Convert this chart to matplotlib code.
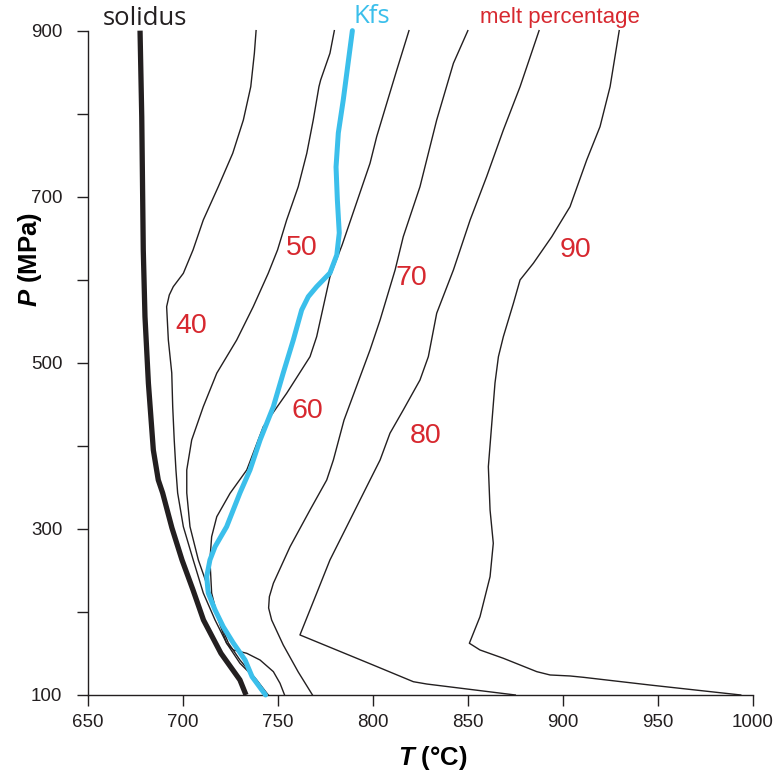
import matplotlib
matplotlib.use("Agg")
import matplotlib.pyplot as plt

plt.rcParams['font.family'] = ['Liberation Sans', 'DejaVu Sans']
plt.rcParams['mathtext.fontset'] = 'custom'
plt.rcParams['mathtext.it'] = 'Liberation Sans:italic:bold'
plt.rcParams['mathtext.rm'] = 'Liberation Sans:bold'

# ---------------- data (T in °C, P in MPa) ----------------
solidus_T = [677.4, 678.3, 679.1, 680.0, 681.8, 684.4, 687.0, 689.3, 694.2, 699.5, 705.3,
             710.8, 720.0, 730.0, 733.2]
solidus_P = [900, 796, 636, 555.6, 475.4, 395.0, 358.9, 343.3, 301.1, 262.6, 226.4,
             190.3, 150.2, 118.1, 100]

kfs_T = [789.2, 784.4, 781.8, 780.6, 781.3, 782.3, 781.0, 777.4, 770.4, 766.0, 762.5, 758.1,
         752.8, 747.6, 740.6, 735.3, 730.0, 723.0, 716.9, 714.2, 712.5, 713.3, 716.9, 721.2,
         726.5, 732.7, 736.4, 743.5]
kfs_P = [900, 816.5, 776.8, 735.8, 696.1, 656.4, 629.9, 608.2, 591.7, 579.7, 563.6, 527.5,
         487.8, 447.2, 407, 371, 343.3, 302.7, 278.6, 262.6, 242.5, 222.8, 202.4, 182.2,
         162.6, 142.1, 122, 100]

m40_T = [738.5, 737.6, 735.7, 731.8, 726.2, 718.6, 710.7, 705.3, 700.2, 694.9, 692.8, 691.4,
         692.3, 694.1, 694.6, 695.4, 696.3, 697.2, 700.2, 705.4, 710.7, 716.9, 723.0, 730.0,
         738.8, 744.9]
m40_P = [900, 872.8, 832.5, 792.4, 752.3, 712.1, 672.0, 635.9, 607.8, 591.7, 581.7, 567.6,
         527.5, 487.8, 447.2, 407.1, 371.0, 343.3, 302.7, 262.6, 222.8, 190.3, 162.3, 138.2,
         118.1, 100]

m50_T = [779.7, 777.4, 772.5, 771.6, 768.6, 765.2, 760.7, 754.6, 749.8, 744.9, 737.0, 728.3,
         717.8, 710.7, 704.6, 702.0, 702.0, 703.7, 708.1, 714.2, 720.4, 723.9, 730.0, 737.9, 744.3]
m50_P = [900, 872.8, 840.6, 832.5, 792.4, 752.3, 712.1, 672.0, 635.9, 607.8, 567.6, 527.5,
         487.5, 447.2, 407.1, 371.0, 343.3, 302.7, 262.6, 222.8, 182.2, 162.6, 142.1, 120.5, 100]

m60_T = [819.0, 812.6, 807.3, 802.0, 798.5, 783.8, 777.4, 770.4, 766.9, 754.6, 742.3, 733.6,
         724.8, 717.8, 715.1, 714.2, 715.1, 718.6, 723.0, 726.5, 733.6, 740.6, 747.6, 751.1, 753.5]
m60_P = [900, 852.7, 812.6, 772.3, 740.3, 641.9, 603.7, 531.5, 507.4, 463.3, 423.1, 371.0,
         342.9, 314.7, 290.6, 262.6, 222.8, 190.3, 162.3, 154.2, 150.2, 142.1, 128.1, 114.1, 100]

m70_T = [850.0, 842.4, 833.6, 824.8, 816.0, 811.7, 803.8, 798.5, 784.8, 779.2, 775.7, 766.9,
         756.4, 747.6, 745.5, 745.1, 746.7, 752.8, 760.7, 768.2]
m70_P = [900, 860.7, 792.4, 712.1, 651.9, 611.8, 551.6, 515.5, 431, 383.0, 358.9, 322.8,
         278.6, 234.5, 218.4, 204.8, 190.3, 160.2, 127.7, 100]

m80_T = [887.5, 877.5, 868.7, 859.9, 851.2, 842.4, 833.6, 829.2, 824.8, 816.0, 809.0, 803.8,
         798.5, 795.0, 786.2, 777.4, 770.4, 761.6, 800.0, 821.3, 828.4, 875.0]
m80_P = [900, 832.5, 780.4, 724.2, 672.0, 611.8, 559.7, 507.4, 479.3, 443.2, 415.2, 383.0,
         358.9, 342.9, 302.7, 262.6, 222.5, 172.3, 136.2, 116.0, 113.2, 100]

m90_T = [929.7, 924.9, 919.6, 912.6, 903.8, 894.2, 884.5, 877.5, 874.0, 868.7, 866.1, 864.3,
         860.8, 861.7, 863.4, 861.7, 856.4, 850.8, 856.4, 868.7, 886.3, 893.3, 903.8, 910.8,
         945.9, 993.7]
m90_P = [900, 832.5, 784.4, 744.3, 688.0, 651.9, 619.9, 599.8, 571.7, 531.5, 507.4, 475.7,
         374.9, 322.8, 282.7, 242.5, 194.3, 162.3, 154.2, 144.2, 128.1, 124.1, 122.9, 121.3,
         112.0, 100]

melt_labels = ['40', '50', '60', '70', '80', '90']
melt_label_T = [704.2, 762.5, 765.3, 820.1, 827.6, 906.5]
melt_label_P = [535.9, 629.9, 433.6, 593.7, 403.1, 627.8]

x_ticks = [650, 700, 750, 800, 850, 900, 950, 1000]
y_ticks = [100, 200, 300, 400, 500, 600, 700, 800, 900]
y_ticklabels = ['100', '', '300', '', '500', '', '700', '', '900']

# ---------------- figure ----------------
fig = plt.figure(figsize=(7.74, 7.78), dpi=100)
ax = fig.add_axes([0.1137, 0.1067, 0.8588, 0.8539])

red = '#d7282f'
blue = '#3bbfeb'
black = '#231f20'

for T, P in [(m40_T, m40_P), (m50_T, m50_P), (m60_T, m60_P),
             (m70_T, m70_P), (m80_T, m80_P), (m90_T, m90_P)]:
    ax.plot(T, P, color=black, lw=1.0, solid_joinstyle='round', clip_on=False)

ax.plot(kfs_T, kfs_P, color=blue, lw=3.6, solid_capstyle='round', solid_joinstyle='round',
        clip_on=False, zorder=3)
ax.plot(solidus_T, solidus_P, color=black, lw=3.8, solid_capstyle='butt', solid_joinstyle='round',
        clip_on=False, zorder=4)

for lab, t, p in zip(melt_labels, melt_label_T, melt_label_P):
    ax.text(t, p, lab, color=red, fontsize=20.5, ha='center', va='baseline')

ax.text(680.0, 906.8, 'solidus', color=black, fontsize=18.5, ha='center', va='baseline',
        family=['Open Sans', 'DejaVu Sans'], clip_on=False)
ax.text(799.6, 908.9, 'Kfs', color=blue, fontsize=18.5, ha='center', va='baseline',
        family=['Open Sans', 'DejaVu Sans'], clip_on=False)
ax.text(898.6, 908.9, 'melt percentage', color=red, fontsize=16, ha='center', va='baseline',
        clip_on=False)

ax.set_xlim(650, 1000)
ax.set_ylim(100, 900)
ax.set_xticks(x_ticks)
ax.set_xticklabels([str(v) for v in x_ticks])
ax.set_yticks(y_ticks)
ax.set_yticklabels(y_ticklabels)

for s in ['top', 'right']:
    ax.spines[s].set_visible(False)
for s in ['left', 'bottom']:
    ax.spines[s].set_linewidth(1.0)
    ax.spines[s].set_color(black)

ax.tick_params(axis='both', direction='out', length=8, width=1.0, colors=black,
               labelsize=13.5)
ax.tick_params(axis='x', pad=6)
ax.tick_params(axis='y', pad=10.5)

ax.set_xlabel(r'$T$ (°C)', fontsize=18.5, fontweight='bold', va='center')
ax.xaxis.set_label_coords(0.519, -0.095)
ax.set_ylabel(r'$P$ (MPa)', fontsize=18.5, fontweight='bold', va='center')
ax.yaxis.set_label_coords(-0.088, 0.655)

fig.savefig('out.png', dpi=100)
